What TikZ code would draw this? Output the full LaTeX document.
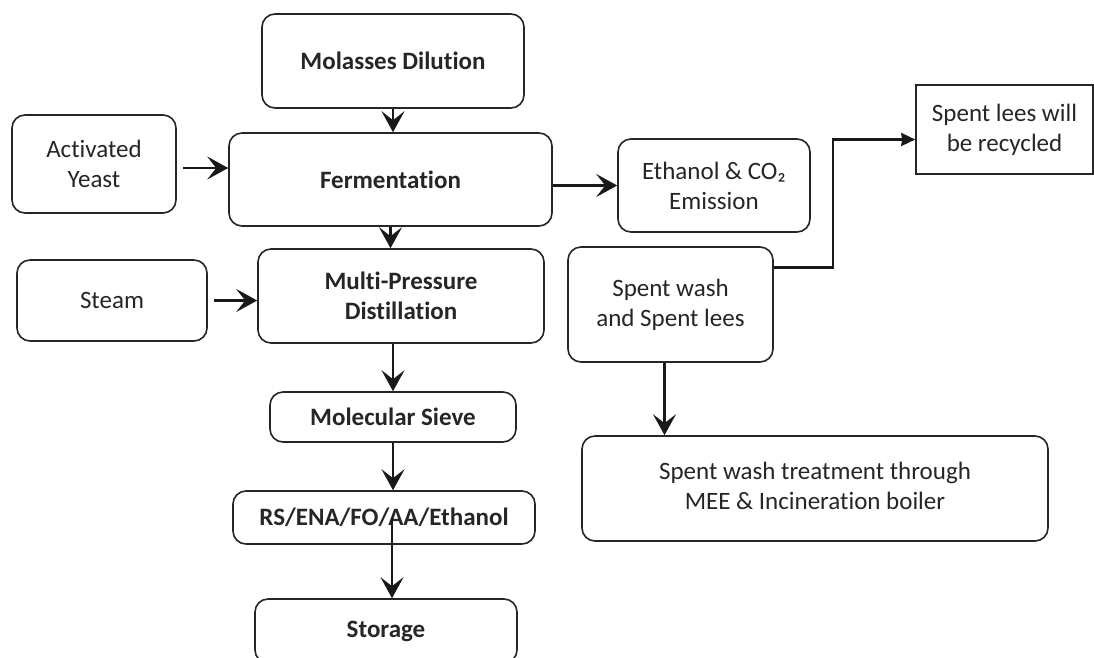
\documentclass[tikz,border=0pt]{standalone}
\usepackage{fontspec}
\setmainfont[Ligatures=NoCommon]{Carlito}
\usetikzlibrary{arrows.meta,calc}
\begin{document}
\begin{tikzpicture}[x=1pt,y=-1pt,
  box/.style={draw=black!85, line width=1.6pt, rounded corners=13pt, align=center, inner sep=0pt,
    font=\fontsize{25}{30}\selectfont, text=black!85},
  bbox/.style={box, font=\fontsize{25}{30}\selectfont\bfseries},
  sqbox/.style={box, rounded corners=0pt},
  flow/.style={line width=2.5pt, draw=black!90, -{Stealth[length=21pt,width=23pt,inset=9pt]}},
  thin flow/.style={line width=2.4pt, draw=black!90, -{Stealth[length=14pt,width=13pt,inset=1pt]}},
]
\useasboundingbox (0,0) rectangle (1094,657);
\clip (0,0) rectangle (1094,657);
\fill[white] (0,0) rectangle (1094,657);

\node[bbox, minimum width=262pt, minimum height=94pt] (mol) at (393,61) {Molasses Dilution};
\node[box, minimum width=164pt, minimum height=98pt] (yeast) at (94,164) {Activated\\Yeast};
\node[bbox, minimum width=323pt, minimum height=93pt] (ferm) at (390.5,179.5) {Fermentation};
\node[box, minimum width=192pt, minimum height=93pt] (eth) at (714,185.5) {Ethanol \& CO₂\\Emission};
\node[sqbox, minimum width=177pt, minimum height=89pt] (lees) at (1004.5,129.5) {Spent lees will\\be recycled};
\node[box, minimum width=190pt, minimum height=81pt] (steam) at (112,300.5) {Steam};
\node[bbox, minimum width=286pt, minimum height=94pt] (mpd) at (401,296) {Multi-Pressure\\Distillation};
\node[box, minimum width=205pt, minimum height=115pt] (sw) at (670.5,304.5) {Spent wash\\and Spent lees};
\node[bbox, minimum width=246pt, minimum height=50pt] (sieve) at (393,417) {Molecular Sieve};
\node[bbox, minimum width=302pt, minimum height=53pt] (rs) at (384,517.5) {RS/ENA/FO/AA/Ethanol};
\node[bbox, minimum width=262pt, minimum height=64pt] (stor) at (386,631) {Storage};
\node[box, minimum width=466pt, minimum height=105pt] (swt) at (815,488.5) {\raisebox{14pt}{\begin{tabular}{c}Spent wash treatment through\\MEE \& Incineration boiler\end{tabular}}};

\coordinate (bend) at (833,200);

\draw[flow] (mol.south) -- (mol.south |- ferm.north);
\draw[flow, shorten <=6pt] ([yshift=-4pt]yeast.east) -- ([yshift=-4pt]yeast.east -| ferm.west);
\draw[flow] (eth.west -| ferm.east) -- (eth.west);
\draw[flow] (ferm.south) -- (ferm.south |- mpd.north);
\draw[flow, shorten <=6pt] (steam.east) -- (steam.east -| mpd.west);
\draw[flow] (sieve.north |- mpd.south) -- (sieve.north);
\draw[flow] (sieve.south) -- (sieve.south |- rs.north);
\draw[flow] ([xshift=6pt]stor.north |- rs.center) -- ([xshift=6pt]stor.north);
\draw[thin flow] ([yshift=37pt]sw.east) -| (bend) |- ([yshift=-10pt]lees.west);
\draw[flow] ([xshift=-6pt]sw.south) -- ([xshift=-6pt]sw.south |- swt.north);
\end{tikzpicture}
\end{document}
